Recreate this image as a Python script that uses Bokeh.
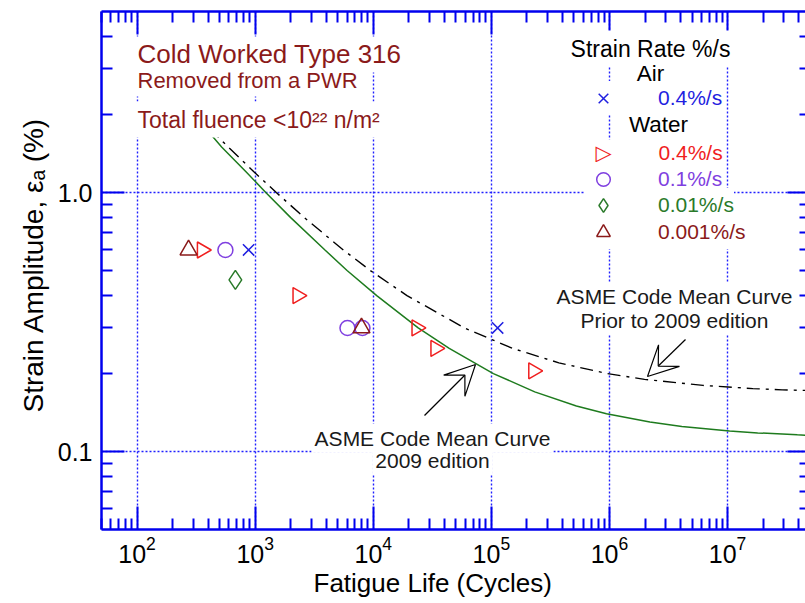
import math
from bokeh.plotting import figure
from bokeh.models import (Range1d, FixedTicker, LogAxis, LogTickFormatter, PrintfTickFormatter,
                          Label, Legend, LegendItem, Arrow, VeeHead, Title)
from bokeh.embed import file_html
from bokeh.resources import INLINE

# ---------------- data ----------------
air_04_N = [880, 113000]
air_04_e = [0.60, 0.30]

water_04_N = [355, 2290, 23300, 33700, 227000]
water_04_e = [0.60, 0.40, 0.30, 0.25, 0.205]

water_01_N = [560, 6050, 8100]
water_01_e = [0.60, 0.30, 0.30]

water_001_N = [680]
water_001_e = [0.46]

water_0001_N = [273, 7950]
water_0001_e = [0.60, 0.30]

# ASME Code mean curve, 2009 edition (green)
asme2009_N = [410, 520, 840, 1230, 2000, 3900, 6000, 10700, 24000, 44000, 104000,
              233000, 525000, 944000, 2200000, 4100000, 10400000, 18000000, 39000000, 50000000]
asme2009_e = [1.70, 1.50, 1.20, 1.00, 0.80, 0.60, 0.50, 0.40, 0.30, 0.25, 0.20,
              0.17, 0.15, 0.14, 0.13, 0.125, 0.12, 0.118, 0.116, 0.1155]

# ASME Code mean curve prior to 2009 edition (dash-dot)
asme_prior_N = [410, 590, 980, 1510, 2610, 5580, 9440, 19300, 59200, 152000, 373000,
                961000, 1980000, 6200000, 16400000, 29000000, 50000000]
asme_prior_e = [1.77, 1.50, 1.20, 1.00, 0.80, 0.60, 0.50, 0.40, 0.30, 0.25, 0.22,
                0.20, 0.19, 0.18, 0.175, 0.173, 0.172]

x_major = [1e2, 1e3, 1e4, 1e5, 1e6, 1e7]
x_minor = [m * 10 ** k for k in range(1, 8) for m in range(2, 10)]
y_major = [0.1, 1.0]
y_minor = [0.06, 0.07, 0.08, 0.09, 0.2, 0.3, 0.4, 0.5, 0.6, 0.7, 0.8, 0.9, 2.0, 3.0, 4.0]

# ---------------- styles / layout ----------------
FONT = "Liberation Sans"
AXIS_BLUE = "#0000ee"
GRID_BLUE = "#2020ff"
DARK_RED = "#8b1a1a"
C_AIR = "#1f1fe0"
C_W04 = "#f01e1e"
C_W01 = "#7f3fe0"
C_W001 = "#2a7a2a"
C_W0001 = "#8b1a1a"
C_CURVE09 = "#1e7b1e"
TXT = "#1a1a1a"

X0, X1 = 50, 4.57e7
Y0, Y1 = 0.05, 5
FL, FR, FT, FB = 101, 805, 11, 529   # frame edges in canvas pixels


def px_x(px):
    lo, hi = math.log10(X0), math.log10(X1)
    return 10 ** (lo + (px - FL) * (hi - lo) / (FR - FL))


def px_y(py):
    lo, hi = math.log10(Y0), math.log10(Y1)
    return 10 ** (hi - (py - FT) * (hi - lo) / (FB - FT))


p = figure(width=805, height=600, x_axis_type="log", y_axis_type="log",
           x_range=Range1d(X0, X1), y_range=Range1d(Y0, Y1),
           output_backend="svg", toolbar_location=None,
           min_border_left=FL, min_border_right=0, min_border_top=FT, min_border_bottom=600 - FB)
p.outline_line_color = None
p.background_fill_color = "white"
p.border_fill_color = "white"

xt = FixedTicker(ticks=x_major, minor_ticks=x_minor)
yt = FixedTicker(ticks=y_major, minor_ticks=y_minor)


def style_axis(ax, show_labels, line=True):
    ax.axis_line_color = AXIS_BLUE if line else None
    ax.axis_line_width = 2.5
    ax.major_tick_line_color = AXIS_BLUE
    ax.minor_tick_line_color = AXIS_BLUE
    ax.major_tick_line_width = 2
    ax.minor_tick_line_width = 2
    ax.major_tick_in = 23
    ax.major_tick_out = 0
    ax.minor_tick_in = 11
    ax.minor_tick_out = 0
    ax.major_label_text_font = FONT
    if show_labels:
        ax.major_label_text_font_size = "25px"
        ax.major_label_text_color = "black"
    else:
        ax.major_label_text_font_size = "1px"
        ax.major_label_text_alpha = 0.0
        ax.major_label_standoff = 0


p.xaxis.ticker = xt
p.xaxis.formatter = LogTickFormatter()
p.xaxis.major_label_standoff = 6
style_axis(p.xaxis[0], True)

p.yaxis.ticker = yt
p.yaxis.formatter = PrintfTickFormatter(format="%.1f")
p.yaxis.major_label_standoff = 9
style_axis(p.yaxis[0], True)

top = LogAxis(ticker=xt)
style_axis(top, False)
p.add_layout(top, "above")
right = LogAxis(ticker=yt, formatter=PrintfTickFormatter(format="%.1f"))
style_axis(right, False, line=False)
right.major_tick_in = 18
right.minor_tick_in = 6
p.add_layout(right, "right")

# axis titles (placed as side titles so they can be offset like the reference)
p.add_layout(Title(text="Fatigue Life (Cycles)", align="left", offset=212, standoff=0,
                   text_font=FONT, text_font_size="26px", text_font_style="normal",
                   text_color="black"), "below")
p.add_layout(Title(text="Strain Amplitude,  εₐ (%)", align="left", offset=FB - 412, standoff=12,
                   text_font=FONT, text_font_size="28px", text_font_style="normal",
                   text_color="black"), "left")

p.xgrid.ticker = FixedTicker(ticks=x_major)
p.ygrid.ticker = FixedTicker(ticks=y_major)
for g in (p.xgrid[0], p.ygrid[0]):
    g.grid_line_color = GRID_BLUE
    g.grid_line_width = 1.4
    g.grid_line_dash = "2 2"
    g.grid_line_alpha = 1.0

# ---------------- curves ----------------
p.line(asme2009_N, asme2009_e, line_color=C_CURVE09, line_width=1.5)
p.line(asme_prior_N, asme_prior_e, line_color="black", line_width=1.4, line_dash="13 6 3 6")

# ---------------- data markers ----------------
r_air = p.scatter(air_04_N, air_04_e, marker="x", size=16, line_color=C_AIR, line_width=1.5)
r_w04 = p.scatter(water_04_N, water_04_e, marker="triangle", angle=-math.pi / 2, size=16,
                  line_color=C_W04, fill_color=None, line_width=1.5)
r_w01 = p.scatter(water_01_N, water_01_e, marker="circle", size=15,
                  line_color=C_W01, fill_color=None, line_width=1.5)
r_w001 = p.scatter(water_001_N, water_001_e, marker="diamond", size=19,
                   line_color=C_W001, fill_color=None, line_width=1.5)
r_w0001 = p.scatter(water_0001_N, water_0001_e, marker="triangle", size=17,
                    line_color=C_W0001, fill_color=None, line_width=1.5)


def add_label(px, baseline, text, size, color, align="left", pad=3, font=FONT,
              baseline_mode="alphabetic"):
    fs = float(size.replace("px", ""))
    if baseline_mode == "alphabetic":
        # Bokeh centres the padded label box on y: shift so the baseline lands where wanted
        ypix = baseline - 0.3465 * fs
    else:
        ypix = baseline
    xpix = px - pad if align == "left" else px
    p.add_layout(Label(x=px_x(xpix), y=px_y(ypix), text=text, text_font=font,
                       text_font_size=size, text_color=color, text_align=align,
                       text_baseline=baseline_mode, background_fill_color="white",
                       padding=pad))


# legend headers
add_label(650, 56, "Strain Rate %/s", "23px", "black", "center", pad=5)
add_label(650, 81, "Air", "22.5px", "black", "center", pad=2)
add_label(658, 132, "Water", "22.5px", "black", "center", pad=3)

# water 0.4 %/s key (right-pointing triangle, which Bokeh legends cannot rotate)
add_label(603, 152, "▷", "21px", C_W04, "center", pad=1, font="DejaVu Sans",
          baseline_mode="middle")
add_label(658, 159, "0.4%/s", "21px", C_W04, "left", pad=1)

# ---------------- legend rows ----------------
legend_rows = [("0.4%/s", r_air, C_AIR, 98),
               ("0.1%/s", r_w01, C_W01, 179),
               ("0.01%/s", r_w001, C_W001, 205),
               ("0.001%/s", r_w0001, C_W0001, 232)]
GW, GH = 36, 34
for lab, rend, col, yc in legend_rows:
    lg = Legend(items=[LegendItem(label=lab, renderers=[rend])],
                location=(603 - GW / 2 - FL, FB - (yc + GH / 2)),
                glyph_width=GW, glyph_height=GH, label_standoff=658 - 603 - GW // 2,
                padding=0, margin=0, spacing=0, border_line_color=None,
                background_fill_color="white", background_fill_alpha=1.0,
                label_text_font=FONT, label_text_font_size="21px", label_text_color=col)
    p.add_layout(lg)

# title block
add_label(137, 127, "Total fluence <10²² n/m²", "23px", DARK_RED, pad=5)
add_label(137, 88, "Removed from a PWR", "22px", DARK_RED, pad=3)
add_label(137, 63, "Cold Worked Type 316", "26px", DARK_RED, pad=3)

# curve annotations
add_label(674, 303.5, "ASME Code Mean Curve", "21px", TXT, "center", pad=3)
add_label(674, 327, "Prior to 2009 edition", "21px", TXT, "center", pad=3)
add_label(432, 467, "2009 edition", "21px", TXT, "center", pad=3)
add_label(432, 445, "ASME Code Mean Curve", "21px", TXT, "center", pad=3)

# arrows pointing at the two curves
p.add_layout(Arrow(end=VeeHead(size=30, fill_color="white", line_color="black", line_width=1.2),
                   x_start=px_x(424), y_start=px_y(415), x_end=px_x(475), y_end=px_y(364),
                   line_color="black", line_width=1.2))
p.add_layout(Arrow(end=VeeHead(size=30, fill_color="white", line_color="black", line_width=1.2),
                   x_start=px_x(685), y_start=px_y(339), x_end=px_x(647), y_end=px_y(376),
                   line_color="black", line_width=1.2))

open("out.html", "w").write(file_html(p, INLINE))
